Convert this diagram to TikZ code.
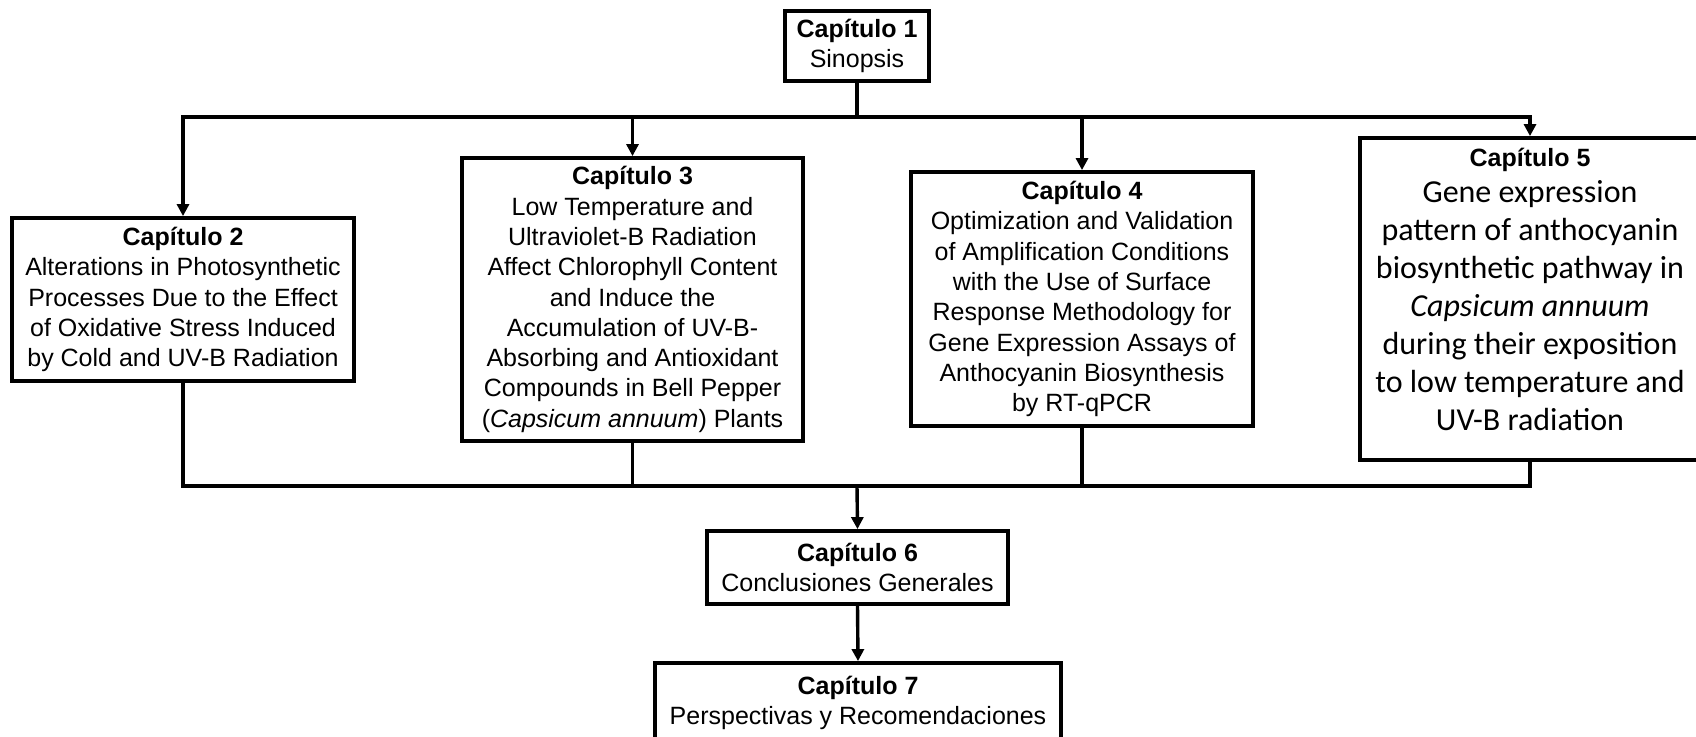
\documentclass[tikz,border=0pt]{standalone}
\usepackage{fontspec}
\setmainfont{Liberation Sans}
\newfontfamily\calibrifont{Carlito}
\usetikzlibrary{arrows.meta}
\begin{document}
\begin{tikzpicture}[x=1pt,y=-1pt,
  box/.style={draw, line width=3.8pt, align=center, inner sep=0pt, fill=white,
    font=\fontsize{25}{30.3}\selectfont},
  conn/.style={line width=3.4pt},
  arr/.style={conn, -{Triangle[length=12pt,width=12pt]}}]
\useasboundingbox (0,0) rectangle (1696,736);

\node[box, minimum width=144pt, minimum height=70pt] (c1) at (857,46)
  {\textbf{Capítulo 1}\\Sinopsis};
\node[box, minimum width=342pt, minimum height=163pt] (c2) at (183,299.5)
  {\textbf{Capítulo 2}\\Alterations in Photosynthetic\\Processes Due to the Effect\\of Oxidative Stress Induced\\by Cold and UV-B Radiation};
\node[box, minimum width=341pt, minimum height=283pt] (c3) at (632.5,299.5)
  {\textbf{Capítulo 3}\\Low Temperature and\\Ultraviolet-B Radiation\\Affect Chlorophyll Content\\and Induce the\\Accumulation of UV-B-\\Absorbing and Antioxidant\\Compounds in Bell Pepper\\(\textit{Capsicum annuum}) Plants};
\node[box, minimum width=342pt, minimum height=254pt] (c4) at (1082,299)
  {\textbf{Capítulo 4}\\Optimization and Validation\\of Amplification Conditions\\with the Use of Surface\\Response Methodology for\\Gene Expression Assays of\\Anthocyanin Biosynthesis\\by RT-qPCR};
\node[box, minimum width=340pt, minimum height=322pt] (c5) at (1530,299)
  {\raisebox{10pt}[\height][\depth]{\parbox{330pt}{\centering
    \fontsize{25}{30.3}\selectfont\textbf{Capítulo 5}\par\vspace{-2pt}
    {\calibrifont\fontsize{32}{38}\selectfont Gene expression\\pattern of anthocyanin\\biosynthetic pathway in\\\textit{Capsicum annuum}\\during their exposition\\to low temperature and\\UV-B radiation\par}}}};
\node[box, minimum width=301pt, minimum height=73pt] (c6) at (857.5,567.5)
  {\textbf{Capítulo 6}\\Conclusiones Generales};
\node[box, minimum width=406pt, minimum height=80pt] (c7) at (858,703)
  {\textbf{Capítulo 7}\\Perspectivas y Recomendaciones};

\coordinate (top) at (857,117);
\coordinate (bot) at (857,486);

\draw[conn] (c1.south) -- (top);
\draw[arr] (top) -| (c2.north);
\draw[arr] (top) -| (c5.north);
\draw[arr] (c3.north |- top) -- (c3.north);
\draw[arr] (c4.north |- top) -- (c4.north);

\draw[conn] (c2.south) |- (bot);
\draw[conn] (c5.south) |- (bot);
\draw[conn] (c3.south) -- (c3.south |- bot);
\draw[conn] (c4.south) -- (c4.south |- bot);
\draw[arr] (bot) -- (c6.north);
\draw[arr] (c6.south) -- (c7.north);
\end{tikzpicture}
\end{document}
